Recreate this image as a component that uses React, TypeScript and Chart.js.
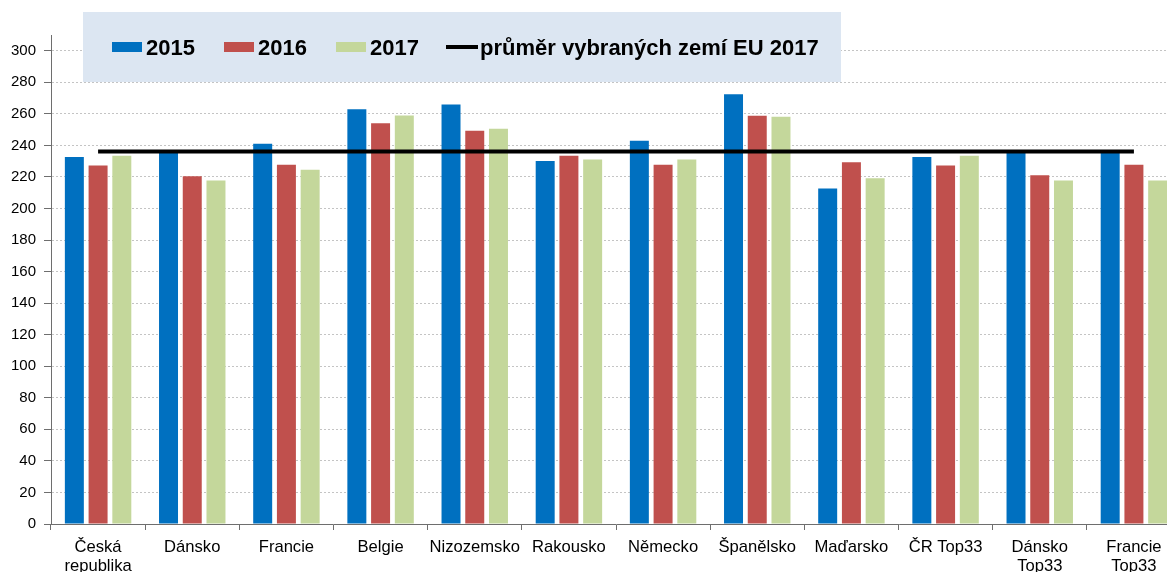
import React, { useEffect, useRef } from "react";
import { Chart, registerables } from "chart.js";

Chart.register(...registerables);

const categories: (string | string[])[] = [
  ["Česká", "republika"],
  "Dánsko",
  "Francie",
  "Belgie",
  "Nizozemsko",
  "Rakousko",
  "Německo",
  "Španělsko",
  "Maďarsko",
  "ČR Top33",
  ["Dánsko", "Top33"],
  ["Francie", "Top33"],
];

const values2015 = [232.6, 235.5, 241, 263, 266, 230.2, 242.9, 272.5, 212.7, 232.6, 235.5, 235.5];
const values2016 = [227.3, 220.5, 227.7, 254, 249.3, 233.4, 227.7, 258.8, 229.4, 227.3, 221.1, 227.7];
const values2017 = [233.4, 217.8, 224.5, 259, 250.5, 231, 231, 258.1, 219.2, 233.4, 217.8, 217.8];
const averageEU2017 = [236.2, 236.2, 236.2, 236.2, 236.2, 236.2, 236.2, 236.2, 236.2, 236.2, 236.2, 236.2];

const seriesLabels = ["2015", "2016", "2017", "průměr vybraných zemí EU 2017"];

const FONT = '"Liberation Sans", Arial, sans-serif';
const AXIS = "#6e6e6e";

const legendPlugin = {
  id: "boxLegend",
  afterDraw(chart: any) {
    const ctx: CanvasRenderingContext2D = chart.ctx;
    ctx.save();
    ctx.fillStyle = "#DCE6F2";
    ctx.fillRect(83, 12, 758, 70);
    ctx.font = `bold 22px ${FONT}`;
    ctx.textBaseline = "alphabetic";
    ctx.textAlign = "left";
    const ds = chart.data.datasets;
    let x = 112;
    for (let i = 0; i < 3; i++) {
      ctx.fillStyle = ds[i].backgroundColor;
      ctx.fillRect(x, 42, 30, 10);
      ctx.fillStyle = "#000";
      ctx.fillText(ds[i].label, x + 34, 55);
      x += 112;
    }
    ctx.strokeStyle = ds[3].borderColor;
    ctx.lineWidth = 4;
    ctx.beginPath();
    ctx.moveTo(446, 47);
    ctx.lineTo(478, 47);
    ctx.stroke();
    ctx.fillStyle = "#000";
    ctx.fillText(ds[3].label, 480, 55);
    ctx.restore();
  },
};

export default function App() {
  const ref = useRef<HTMLCanvasElement>(null);

  useEffect(() => {
    if (!ref.current) return;
    const chart = new Chart(ref.current, {
      type: "bar",
      data: {
        labels: categories,
        datasets: [
          {
            label: seriesLabels[0],
            data: values2015,
            backgroundColor: "#0070C0",
            order: 1,
          },
          {
            label: seriesLabels[1],
            data: values2016,
            backgroundColor: "#C0504D",
            order: 1,
          },
          {
            label: seriesLabels[2],
            data: values2017,
            backgroundColor: "#C4D79B",
            order: 1,
          },
          {
            type: "line",
            label: seriesLabels[3],
            data: averageEU2017,
            borderColor: "#000000",
            backgroundColor: "#000000",
            borderWidth: 4,
            pointRadius: 0,
            order: 0,
          } as any,
        ],
      },
      options: {
        animation: false,
        responsive: false,
        devicePixelRatio: 1,
        categoryPercentage: 0.756,
        barPercentage: 0.8,
        layout: { padding: { top: 35, left: 0, right: 0, bottom: 0 } },
        plugins: {
          legend: { display: false },
          tooltip: { enabled: false },
        },
        scales: {
          x: {
            grid: {
              display: true,
              drawOnChartArea: false,
              offset: true,
              tickLength: 6,
              tickColor: AXIS,
              color: AXIS,
            },
            border: { color: AXIS, width: 1 },
            ticks: {
              autoSkip: false,
              maxRotation: 0,
              minRotation: 0,
              padding: 8,
              color: "#000",
              font: { family: FONT, size: 16.6, lineHeight: 1.15 },
            },
            afterFit(scale: any) {
              scale.height = 48;
            },
          },
          y: {
            min: 0,
            max: 310,
            grid: {
              color: (c: any) => (c.tick && c.tick.value === 0 ? "rgba(0,0,0,0)" : "#C4C4C4"),
              tickColor: AXIS,
              tickLength: 7,
              lineWidth: 1,
            },
            border: { color: AXIS, width: 1, dash: [2, 2] },
            ticks: {
              stepSize: 20,
              includeBounds: false,
              padding: 8,
              color: "#000",
              font: { family: FONT, size: 15 },
            },
            afterFit(scale: any) {
              scale.width = 51;
            },
          },
        },
      },
      plugins: [legendPlugin],
    });
    return () => chart.destroy();
  }, []);

  return (
    <div
      style={{
        position: "fixed",
        left: 0,
        top: 0,
        width: 1167,
        height: 572,
        overflow: "hidden",
        background: "#fff",
      }}
    >
      <canvas ref={ref} width={1181} height={572} style={{ display: "block", width: 1181, height: 572 }} />
    </div>
  );
}
